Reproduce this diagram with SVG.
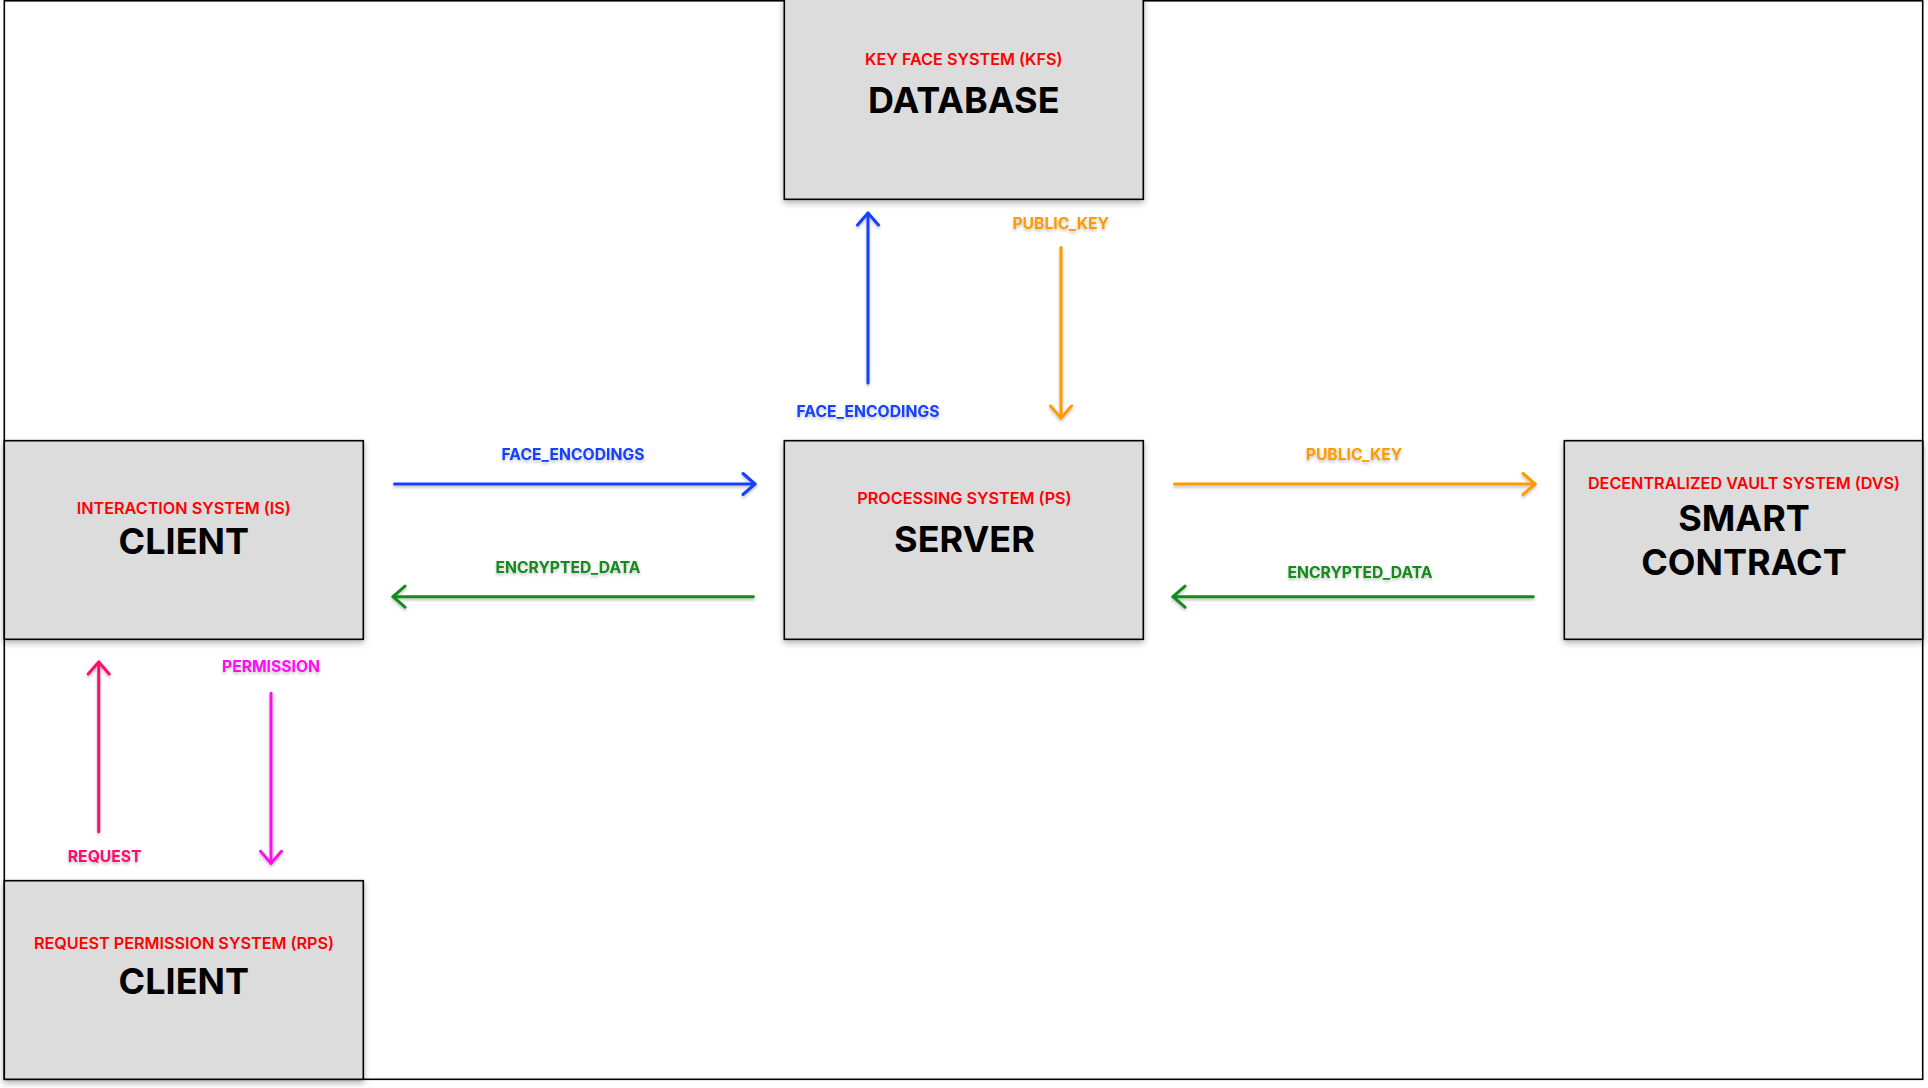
<svg xmlns="http://www.w3.org/2000/svg" width="1928" height="1088" viewBox="0 0 1928 1088">
<style>
.node rect{fill:#dcdcdc;stroke:#000;stroke-width:1.6;filter:url(#boxsh)}
.sub{font-family:Inter,"Liberation Sans",sans-serif;font-weight:600;font-size:16.2px;fill:#ff0000;text-anchor:middle}
.ttl{font-family:Inter,"Liberation Sans",sans-serif;font-weight:700;font-size:36px;fill:#000;text-anchor:middle}
.lbl{font-family:Inter,"Liberation Sans",sans-serif;font-weight:700;font-size:15.7px;text-anchor:middle;filter:url(#txtsh)}
.conn line{stroke-width:3;stroke-linecap:round;fill:none;filter:url(#linesh)}
.blue{stroke:#1440ff}.orange{stroke:#ff9a00}.green{stroke:#138a1f}.pink{stroke:#ff0a6c}.mag{stroke:#ff10f0}
.tblue{fill:#1440ff}.torange{fill:#ff9a00}.tgreen{fill:#138a1f}.tpink{fill:#ff0a6c}.tmag{fill:#ff10f0}
</style>
<defs>
<filter id="boxsh" x="-10%" y="-10%" width="120%" height="125%"><feDropShadow dx="0" dy="3" stdDeviation="3" flood-color="#000" flood-opacity="0.3"/></filter>
<filter id="txtsh" x="-20%" y="-40%" width="140%" height="200%"><feDropShadow dx="0" dy="2" stdDeviation="1.5" flood-color="#000" flood-opacity="0.25"/></filter>
<filter id="linesh" filterUnits="userSpaceOnUse" x="0" y="0" width="1928" height="1088"><feDropShadow dx="0" dy="2" stdDeviation="1.5" flood-color="#000" flood-opacity="0.25"/></filter>
<marker id="mblue" markerUnits="userSpaceOnUse" viewBox="-14 -13 16 26" refX="0" refY="0" markerWidth="16" markerHeight="26" orient="auto"><path d="M-12,-10.5 L0,0 L-12,10.5" fill="none" stroke="#1440ff" stroke-width="3" stroke-linecap="round" stroke-linejoin="round"/></marker>
<marker id="morange" markerUnits="userSpaceOnUse" viewBox="-14 -13 16 26" refX="0" refY="0" markerWidth="16" markerHeight="26" orient="auto"><path d="M-12,-10.5 L0,0 L-12,10.5" fill="none" stroke="#ff9a00" stroke-width="3" stroke-linecap="round" stroke-linejoin="round"/></marker>
<marker id="mgreen" markerUnits="userSpaceOnUse" viewBox="-14 -13 16 26" refX="0" refY="0" markerWidth="16" markerHeight="26" orient="auto"><path d="M-12,-10.5 L0,0 L-12,10.5" fill="none" stroke="#138a1f" stroke-width="3" stroke-linecap="round" stroke-linejoin="round"/></marker>
<marker id="mpink" markerUnits="userSpaceOnUse" viewBox="-14 -13 16 26" refX="0" refY="0" markerWidth="16" markerHeight="26" orient="auto"><path d="M-12,-10.5 L0,0 L-12,10.5" fill="none" stroke="#ff0a6c" stroke-width="3" stroke-linecap="round" stroke-linejoin="round"/></marker>
<marker id="mmag" markerUnits="userSpaceOnUse" viewBox="-14 -13 16 26" refX="0" refY="0" markerWidth="16" markerHeight="26" orient="auto"><path d="M-12,-10.5 L0,0 L-12,10.5" fill="none" stroke="#ff10f0" stroke-width="3" stroke-linecap="round" stroke-linejoin="round"/></marker>
</defs>
<rect x="0" y="0" width="1928" height="1088" fill="#fff"/>
<rect x="4.3" y="0.8" width="1918.4" height="1078.5" fill="none" stroke="#000" stroke-width="1.6"/>

<g id="kfs" class="node">
<rect x="784.3" y="-2" width="359" height="201.3"/>
<text class="sub" x="963.8" y="65">KEY FACE SYSTEM (KFS)</text>
<text class="ttl" x="963.8" y="113">DATABASE</text>
</g>
<g id="is" class="node">
<rect x="4.3" y="440.7" width="359" height="198.6"/>
<text class="sub" x="183.8" y="514.3">INTERACTION SYSTEM (IS)</text>
<text class="ttl" x="183.8" y="554">CLIENT</text>
</g>
<g id="ps" class="node">
<rect x="784.3" y="440.7" width="359" height="198.6"/>
<text class="sub" x="964.5" y="504">PROCESSING SYSTEM (PS)</text>
<text class="ttl" x="964.5" y="552">SERVER</text>
</g>
<g id="dvs" class="node">
<rect x="1564.3" y="440.7" width="358.4" height="198.6"/>
<text class="sub" x="1744" y="489">DECENTRALIZED VAULT SYSTEM (DVS)</text>
<text class="ttl" x="1744" y="530.7">SMART</text>
<text class="ttl" x="1744" y="575.3">CONTRACT</text>
</g>
<g id="rps" class="node">
<rect x="4.3" y="880.7" width="359" height="198.6"/>
<text class="sub" x="184" y="949">REQUEST PERMISSION SYSTEM (RPS)</text>
<text class="ttl" x="183.8" y="994">CLIENT</text>
</g>

<g id="connectors" class="conn">
<line class="blue" x1="868" y1="383" x2="868" y2="213" marker-end="url(#mblue)"/>
<line class="orange" x1="1061" y1="247.5" x2="1061" y2="418" marker-end="url(#morange)"/>
<line class="blue" x1="394.5" y1="484" x2="755" y2="484" marker-end="url(#mblue)"/>
<line class="green" x1="753.3" y1="596.7" x2="393" y2="596.7" marker-end="url(#mgreen)"/>
<line class="orange" x1="1174.5" y1="484" x2="1535" y2="484" marker-end="url(#morange)"/>
<line class="green" x1="1533.3" y1="596.7" x2="1173" y2="596.7" marker-end="url(#mgreen)"/>
<line class="pink" x1="98.7" y1="831.7" x2="98.7" y2="662" marker-end="url(#mpink)"/>
<line class="mag" x1="271" y1="693.3" x2="271" y2="863.3" marker-end="url(#mmag)"/>
<text class="lbl tblue" x="868" y="416.7">FACE_ENCODINGS</text>
<text class="lbl torange" x="1060.7" y="229.3">PUBLIC_KEY</text>
<text class="lbl tblue" x="573" y="460">FACE_ENCODINGS</text>
<text class="lbl tgreen" x="568" y="573.3">ENCRYPTED_DATA</text>
<text class="lbl torange" x="1354" y="460">PUBLIC_KEY</text>
<text class="lbl tgreen" x="1360" y="577.7">ENCRYPTED_DATA</text>
<text class="lbl tpink" x="104.7" y="862.3">REQUEST</text>
<text class="lbl tmag" x="271" y="672">PERMISSION</text>
</g>
</svg>
